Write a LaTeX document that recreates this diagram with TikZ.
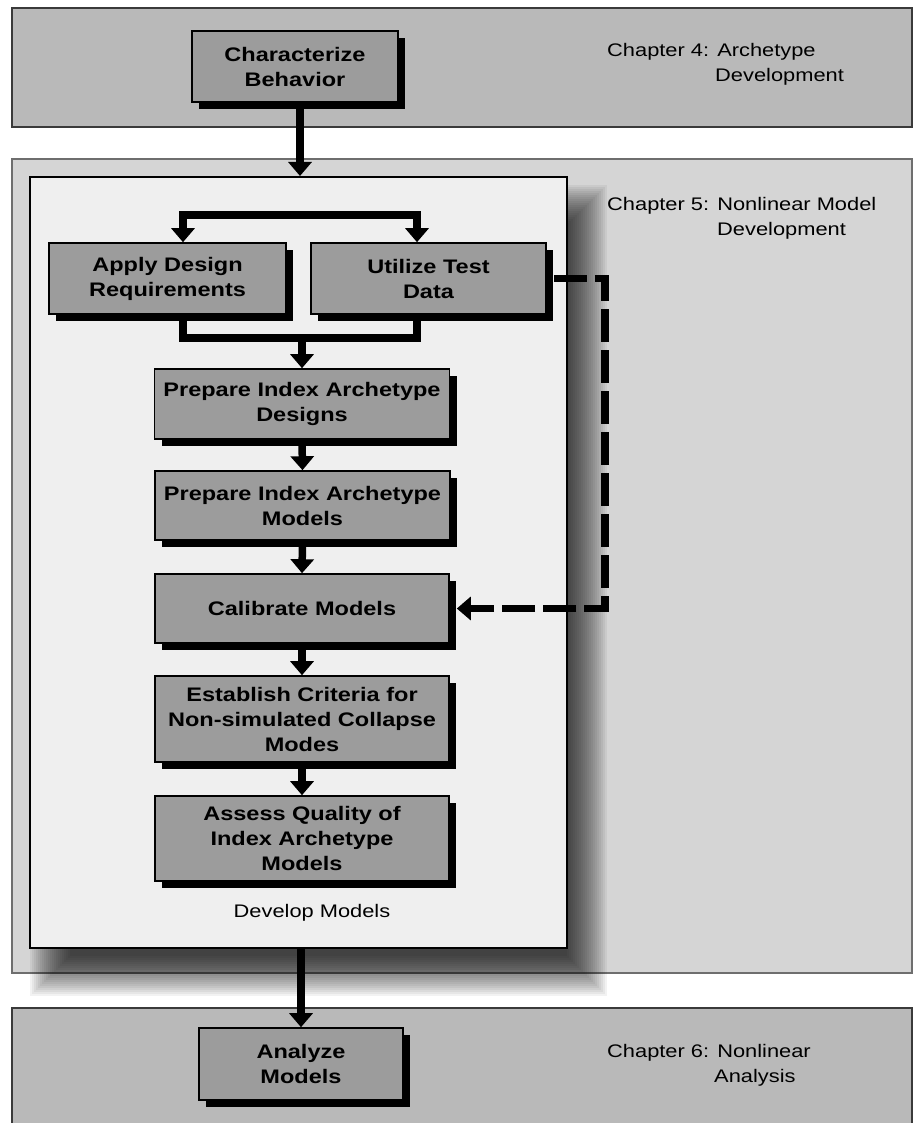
\documentclass[tikz,border=0pt]{standalone}
\usepackage{fontspec}
\setmainfont{Liberation Sans}[FakeStretch=1.2]
\usetikzlibrary{arrows.meta,shadows}
\definecolor{bandgray}{HTML}{B9B9B9}
\definecolor{midgray}{HTML}{D5D5D5}
\definecolor{panelgray}{HTML}{EFEFEF}
\definecolor{boxgray}{HTML}{9C9C9C}
\definecolor{edgegray}{HTML}{3A3A3A}
\definecolor{midedge}{HTML}{6E6E6E}

\begin{document}
\begin{tikzpicture}[x=1pt,y=-1pt,
  procbox/.style={draw=black, line width=1.6pt, fill=boxgray, align=center, inner sep=0pt,
    font=\fontsize{19.6}{25}\selectfont\bfseries,
    drop shadow={shadow xshift=7pt, shadow yshift=-7pt, fill=black, opacity=1}},
  chap/.style={font=\fontsize{18.2}{25}\selectfont, align=left, inner sep=0pt,
    anchor=base west, text=black},
  plainlabel/.style={font=\fontsize{18.2}{25}\selectfont, inner sep=0pt, text=black},
  link/.style={line width=7.5pt, draw=black},
  tip/.style={-{Triangle[width=23pt,length=14pt]}},
  conn/.style={link, tip},
  dashlink/.style={link, dash pattern=on 33pt off 8pt, tip}
]
\useasboundingbox (0,0) rectangle (914,1123);
\clip (0,0) rectangle (914,1123);

% chapter bands
\path[fill=bandgray, draw=edgegray, line width=2.5pt] (12,8) rectangle (912,127);
\path[fill=midgray, draw=midedge, line width=2pt] (12,159) rectangle (912,973);
\path[fill=bandgray, draw=edgegray, line width=2.5pt] (12,1008) rectangle (912,1140);

% soft shadow behind the panel
\foreach \e in {-20,-18,...,20}
  \fill[black, opacity=0.05] (50-\e,205-\e) rectangle (587+\e,976+\e);

% panel holding the model development steps
\node[draw=black, line width=2pt, fill=panelgray, minimum width=537pt, minimum height=771pt,
  inner sep=0pt] (dev) at (298.5,562.5) {};
\node[plainlabel] (devlabel) at (312,913) {Develop Models};

% chapter captions (anchored at the baseline of their second line)
\node[chap] (ch4) at (607,82) {Chapter 4: Archetype\\\hspace*{108pt}Development};
\node[chap] (ch5) at (607,236) {Chapter 5: Nonlinear Model\\\hspace*{110pt}Development};
\node[chap] (ch6) at (607,1082) {Chapter 6: Nonlinear\\\hspace*{107pt}Analysis};

% process steps
\node[procbox, minimum width=206pt, minimum height=71pt] (cb) at (295,66.5) {Characterize\\Behavior};
\node[procbox, minimum width=237pt, minimum height=71pt] (ap) at (167.5,278.5) {Apply Design\\Requirements};
\node[procbox, minimum width=235pt, minimum height=71pt] (ut) at (428.5,278.5) {Utilize Test\\Data};
\node[procbox, minimum width=295pt, minimum height=70pt] (pd) at (302,404) {Prepare Index Archetype\\Designs};
\node[procbox, minimum width=295pt, minimum height=69pt] (pm) at (302.5,505.5) {Prepare Index Archetype\\Models};
\node[procbox, minimum width=294pt, minimum height=69pt] (cal) at (302,608.5) {Calibrate Models};
\node[procbox, minimum width=294pt, minimum height=86pt] (ec) at (302,719) {Establish Criteria for\\Non-simulated Collapse\\Modes};
\node[procbox, minimum width=294pt, minimum height=85pt] (aq) at (302,838.5) {Assess Quality of\\Index Archetype\\Models};
\node[procbox, minimum width=204pt, minimum height=72pt] (an) at (301,1064) {Analyze\\Models};

% routing points
\coordinate (split) at (300,215);
\coordinate (merge) at (302,338);
\coordinate (dashturn) at (605,608.5);

% connectors
\draw[conn] ([xshift=5pt]cb.south) -- ([xshift=5pt]cb.south |- dev.north);
\draw[link, {Triangle[width=23pt,length=14pt]}-{Triangle[width=23pt,length=14pt]}]
  ([xshift=15.5pt]ap.north) |- (split) -| ([xshift=-11.5pt]ut.north);
\draw[link] ([xshift=15.5pt]ap.south) |- (merge) -| ([xshift=-11.5pt]ut.south);
\draw[conn] (merge) -- (merge |- pd.north);
\draw[conn] (pd.south) -- (pm.north);
\draw[conn] (pm.south) -- (cal.north);
\draw[conn] (cal.south) -- (ec.north);
\draw[conn] (ec.south) -- (aq.north);
\draw[conn] (an.north |- dev.south) -- (an.north);
\draw[dashlink] ([xshift=7pt]ut.east) -| (dashturn) -- ([xshift=7pt]cal.east);
\end{tikzpicture}
\end{document}
